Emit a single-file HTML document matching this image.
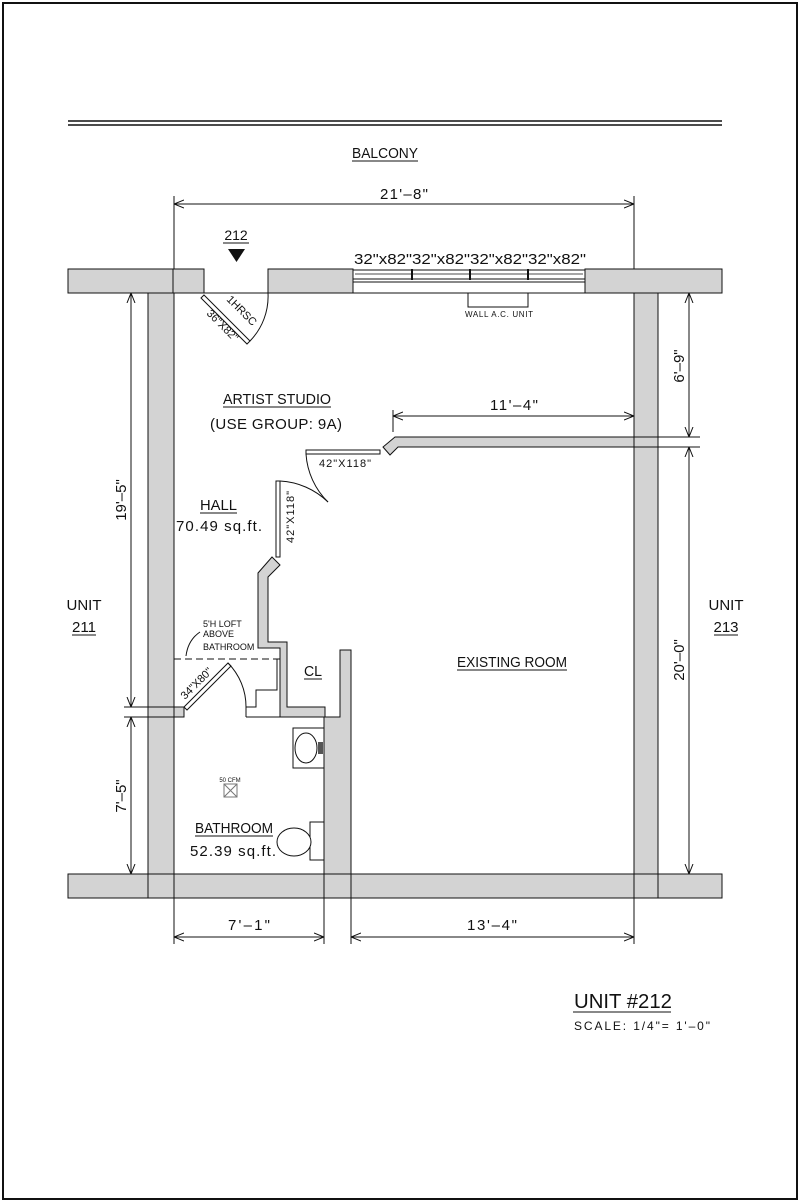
<!DOCTYPE html>
<html><head><style>
html,body{margin:0;padding:0;background:#fff;}
svg{display:block;}
text{font-family:"Liberation Sans",sans-serif;fill:#111;}
</style></head><body>
<svg width="800" height="1202" viewBox="0 0 800 1202" xmlns="http://www.w3.org/2000/svg">
<defs>
<marker id="ar" viewBox="0 0 10 10" refX="10" refY="5" markerWidth="10" markerHeight="10" orient="auto-start-reverse" markerUnits="userSpaceOnUse"><path d="M0,1 L10,5 L0,9" fill="none" stroke="#111" stroke-width="1"/></marker>
</defs>
<rect x="3" y="3" width="794" height="1196" fill="none" stroke="#111" stroke-width="2"/>
<line x1="68" y1="121" x2="722" y2="121" stroke="#111" stroke-width="1.5"/>
<line x1="68" y1="125" x2="722" y2="125" stroke="#111" stroke-width="1.5"/>
<text x="352" y="158" font-size="15" textLength="66" lengthAdjust="spacingAndGlyphs">BALCONY</text>
<line x1="352" y1="161" x2="418" y2="161" stroke="#111"/>

<line x1="174" y1="196" x2="174" y2="293" stroke="#111"/>
<line x1="634" y1="196" x2="634" y2="269" stroke="#111"/>
<line x1="174" y1="204" x2="634" y2="204" stroke="#111" marker-start="url(#ar)" marker-end="url(#ar)"/>
<text x="380" y="199" font-size="15" textLength="48">21'–8"</text>

<g fill="#d3d3d3" stroke="#111" stroke-width="1">
<rect x="68" y="269" width="136" height="24"/>
<rect x="268" y="269" width="85" height="24"/>
<rect x="585" y="269" width="137" height="24"/>
<rect x="148" y="293" width="26" height="581"/>
<rect x="634" y="293" width="24" height="581"/>
<rect x="68" y="874" width="654" height="24"/>
<path d="M395,437 L634,437 L634,447 L398,447 L390,455 L383,447 Z"/>
<path d="M258,573 L272,557 L280,565 L268,577 L268,642 L287,642 L287,707 L325,707 L325,717 L280,717 L280,648 L258,648 Z"/>
<path d="M340,650 L351,650 L351,874 L324,874 L324,717 L340,717 Z"/>
<rect x="174" y="707" width="10" height="10"/>
</g>
<line x1="173" y1="269" x2="173" y2="293" stroke="#111"/>
<line x1="148" y1="874" x2="148" y2="898" stroke="#111"/>
<line x1="174" y1="874" x2="174" y2="898" stroke="#111"/>
<line x1="634" y1="874" x2="634" y2="898" stroke="#111"/>
<line x1="658" y1="874" x2="658" y2="898" stroke="#111"/>
<line x1="324" y1="874" x2="324" y2="898" stroke="#111"/>
<line x1="351" y1="874" x2="351" y2="898" stroke="#111"/>

<line x1="204" y1="269" x2="204" y2="293" stroke="#111"/>
<line x1="268" y1="269" x2="268" y2="293" stroke="#111"/>
<line x1="204" y1="293" x2="268" y2="293" stroke="#111"/>
<path d="M204,295 L250,341 L247,344 L201,298 Z" fill="#fff" stroke="#111"/>
<path d="M268,293 A64,64 0 0 1 250,341" fill="none" stroke="#111"/>
<text font-size="11" transform="translate(226,300) rotate(45)">1HRSC</text>
<text font-size="11" transform="translate(206,314) rotate(45)">36"X82"</text>
<text x="236" y="240" font-size="14" text-anchor="middle">212</text>
<line x1="223" y1="243" x2="249" y2="243" stroke="#111"/>
<path d="M228,249 L245,249 L236.5,262 Z" fill="#111"/>

<line x1="353" y1="269" x2="353" y2="293" stroke="#111"/>
<line x1="585" y1="269" x2="585" y2="293" stroke="#111"/>
<line x1="353" y1="293" x2="585" y2="293" stroke="#111"/>
<rect x="353" y="270" width="232" height="9" fill="none" stroke="#111"/>
<line x1="355" y1="274" x2="583" y2="274" stroke="#111" stroke-width="0.8"/>
<line x1="412" y1="269" x2="412" y2="280" stroke="#111" stroke-width="2"/>
<line x1="470" y1="269" x2="470" y2="280" stroke="#111" stroke-width="2"/>
<line x1="528" y1="269" x2="528" y2="280" stroke="#111" stroke-width="2"/>
<line x1="353" y1="282" x2="585" y2="282" stroke="#111"/>
<text x="354" y="264" font-size="15" textLength="232" lengthAdjust="spacingAndGlyphs">32"x82"32"x82"32"x82"32"x82"</text>
<path d="M468,293 L468,307 L528,307 L528,293" fill="none" stroke="#111"/>
<text x="465" y="317" font-size="8" textLength="68">WALL A.C. UNIT</text>

<text x="223" y="404" font-size="15" textLength="108" lengthAdjust="spacingAndGlyphs">ARTIST STUDIO</text>
<line x1="223" y1="407" x2="331" y2="407" stroke="#111"/>
<text x="210" y="429" font-size="15" textLength="132">(USE GROUP:  9A)</text>

<line x1="393" y1="410" x2="393" y2="432" stroke="#111"/>
<line x1="393" y1="416" x2="634" y2="416" stroke="#111" marker-start="url(#ar)" marker-end="url(#ar)"/>
<text x="490" y="410" font-size="15" textLength="48">11'–4"</text>

<rect x="306" y="450" width="74" height="4" fill="#fff" stroke="#111"/>
<path d="M306,454 A74,74 0 0 0 328,502" fill="none" stroke="#111"/>
<text x="319" y="467" font-size="11" textLength="52">42"X118"</text>
<rect x="276" y="481" width="4" height="76" fill="#fff" stroke="#111"/>
<path d="M280,481 A74,74 0 0 1 328,502" fill="none" stroke="#111"/>
<text font-size="11" transform="translate(294,543) rotate(-90)" textLength="52">42"X118"</text>

<text x="200" y="510" font-size="15" textLength="37" lengthAdjust="spacingAndGlyphs">HALL</text>
<line x1="200" y1="513" x2="237" y2="513" stroke="#111"/>
<text x="176" y="531" font-size="15" textLength="86">70.49  sq.ft.</text>

<text x="203" y="627" font-size="9">5'H LOFT</text>
<text x="203" y="637" font-size="9">ABOVE</text>
<text x="203" y="650" font-size="9">BATHROOM</text>
<path d="M200,632 Q188,640 186,656" fill="none" stroke="#111"/>
<line x1="174" y1="659" x2="280" y2="659" stroke="#111" stroke-dasharray="7,4"/>
<path d="M184,707 L228,663 L231,666 L187,710 Z" fill="#fff" stroke="#111"/>
<path d="M228,663 A62,62 0 0 1 246,707" fill="none" stroke="#111"/>
<path d="M246,707 L256,707 L256,690 L277,690 L277,659" fill="none" stroke="#111"/>
<line x1="246" y1="717" x2="280" y2="717" stroke="#111"/>
<line x1="246" y1="707" x2="246" y2="717" stroke="#111"/>
<text font-size="11" transform="translate(185,700) rotate(-45)">34"X80"</text>
<text x="304" y="676" font-size="15" textLength="18" lengthAdjust="spacingAndGlyphs">CL</text>
<line x1="304" y1="679" x2="322" y2="679" stroke="#111"/>

<rect x="293" y="728" width="31" height="40" fill="#fff" stroke="#111"/>
<ellipse cx="306" cy="748" rx="11" ry="15" fill="none" stroke="#111"/>
<rect x="318" y="742" width="5" height="12" fill="#555"/>
<text x="230" y="782" font-size="6" text-anchor="middle" fill="#666">50 CFM</text>
<rect x="224" y="784" width="13" height="13" fill="none" stroke="#777"/>
<path d="M224,784 L237,797 M237,784 L224,797" stroke="#777"/>
<rect x="310" y="822" width="14" height="38" fill="#fff" stroke="#111"/>
<ellipse cx="294" cy="842" rx="17" ry="14" fill="#fff" stroke="#111"/>
<text x="195" y="833" font-size="15" textLength="78" lengthAdjust="spacingAndGlyphs">BATHROOM</text>
<line x1="195" y1="836" x2="273" y2="836" stroke="#111"/>
<text x="190" y="856" font-size="15" textLength="86">52.39  sq.ft.</text>

<text x="457" y="667" font-size="15" textLength="110" lengthAdjust="spacingAndGlyphs">EXISTING ROOM</text>
<line x1="457" y1="670" x2="567" y2="670" stroke="#111"/>

<line x1="124" y1="293" x2="148" y2="293" stroke="#111"/>
<line x1="124" y1="707" x2="174" y2="707" stroke="#111"/>
<line x1="124" y1="717" x2="174" y2="717" stroke="#111"/>
<line x1="131" y1="293" x2="131" y2="707" stroke="#111" marker-start="url(#ar)" marker-end="url(#ar)"/>
<line x1="131" y1="717" x2="131" y2="874" stroke="#111" marker-start="url(#ar)" marker-end="url(#ar)"/>
<text font-size="15" text-anchor="middle" transform="translate(126,500) rotate(-90)">19'–5"</text>
<text font-size="15" text-anchor="middle" transform="translate(126,796) rotate(-90)">7'–5"</text>
<line x1="658" y1="293" x2="700" y2="293" stroke="#111"/>
<line x1="634" y1="437" x2="700" y2="437" stroke="#111"/>
<line x1="634" y1="447" x2="700" y2="447" stroke="#111"/>
<line x1="689" y1="293" x2="689" y2="437" stroke="#111" marker-start="url(#ar)" marker-end="url(#ar)"/>
<line x1="689" y1="447" x2="689" y2="874" stroke="#111" marker-start="url(#ar)" marker-end="url(#ar)"/>
<text font-size="15" text-anchor="middle" transform="translate(684,366) rotate(-90)">6'–9"</text>
<text font-size="15" text-anchor="middle" transform="translate(684,660) rotate(-90)">20'–0"</text>

<text x="84" y="610" font-size="15" text-anchor="middle">UNIT</text>
<text x="84" y="632" font-size="15" text-anchor="middle">211</text>
<line x1="72" y1="635" x2="96" y2="635" stroke="#111"/>
<text x="726" y="610" font-size="15" text-anchor="middle">UNIT</text>
<text x="726" y="632" font-size="15" text-anchor="middle">213</text>
<line x1="714" y1="635" x2="738" y2="635" stroke="#111"/>

<line x1="174" y1="898" x2="174" y2="944" stroke="#111"/>
<line x1="324" y1="898" x2="324" y2="944" stroke="#111"/>
<line x1="351" y1="898" x2="351" y2="944" stroke="#111"/>
<line x1="634" y1="898" x2="634" y2="944" stroke="#111"/>
<line x1="174" y1="937" x2="324" y2="937" stroke="#111" marker-start="url(#ar)" marker-end="url(#ar)"/>
<line x1="351" y1="937" x2="634" y2="937" stroke="#111" marker-start="url(#ar)" marker-end="url(#ar)"/>
<text x="228" y="930" font-size="15" textLength="42">7'–1"</text>
<text x="467" y="930" font-size="15" textLength="50">13'–4"</text>

<text x="574" y="1008" font-size="20" textLength="98" lengthAdjust="spacingAndGlyphs">UNIT  #212</text>
<line x1="573" y1="1012" x2="671" y2="1012" stroke="#111"/>
<text x="574" y="1030" font-size="12" textLength="136">SCALE:  1/4"=  1'–0"</text>
</svg>
</body></html>
